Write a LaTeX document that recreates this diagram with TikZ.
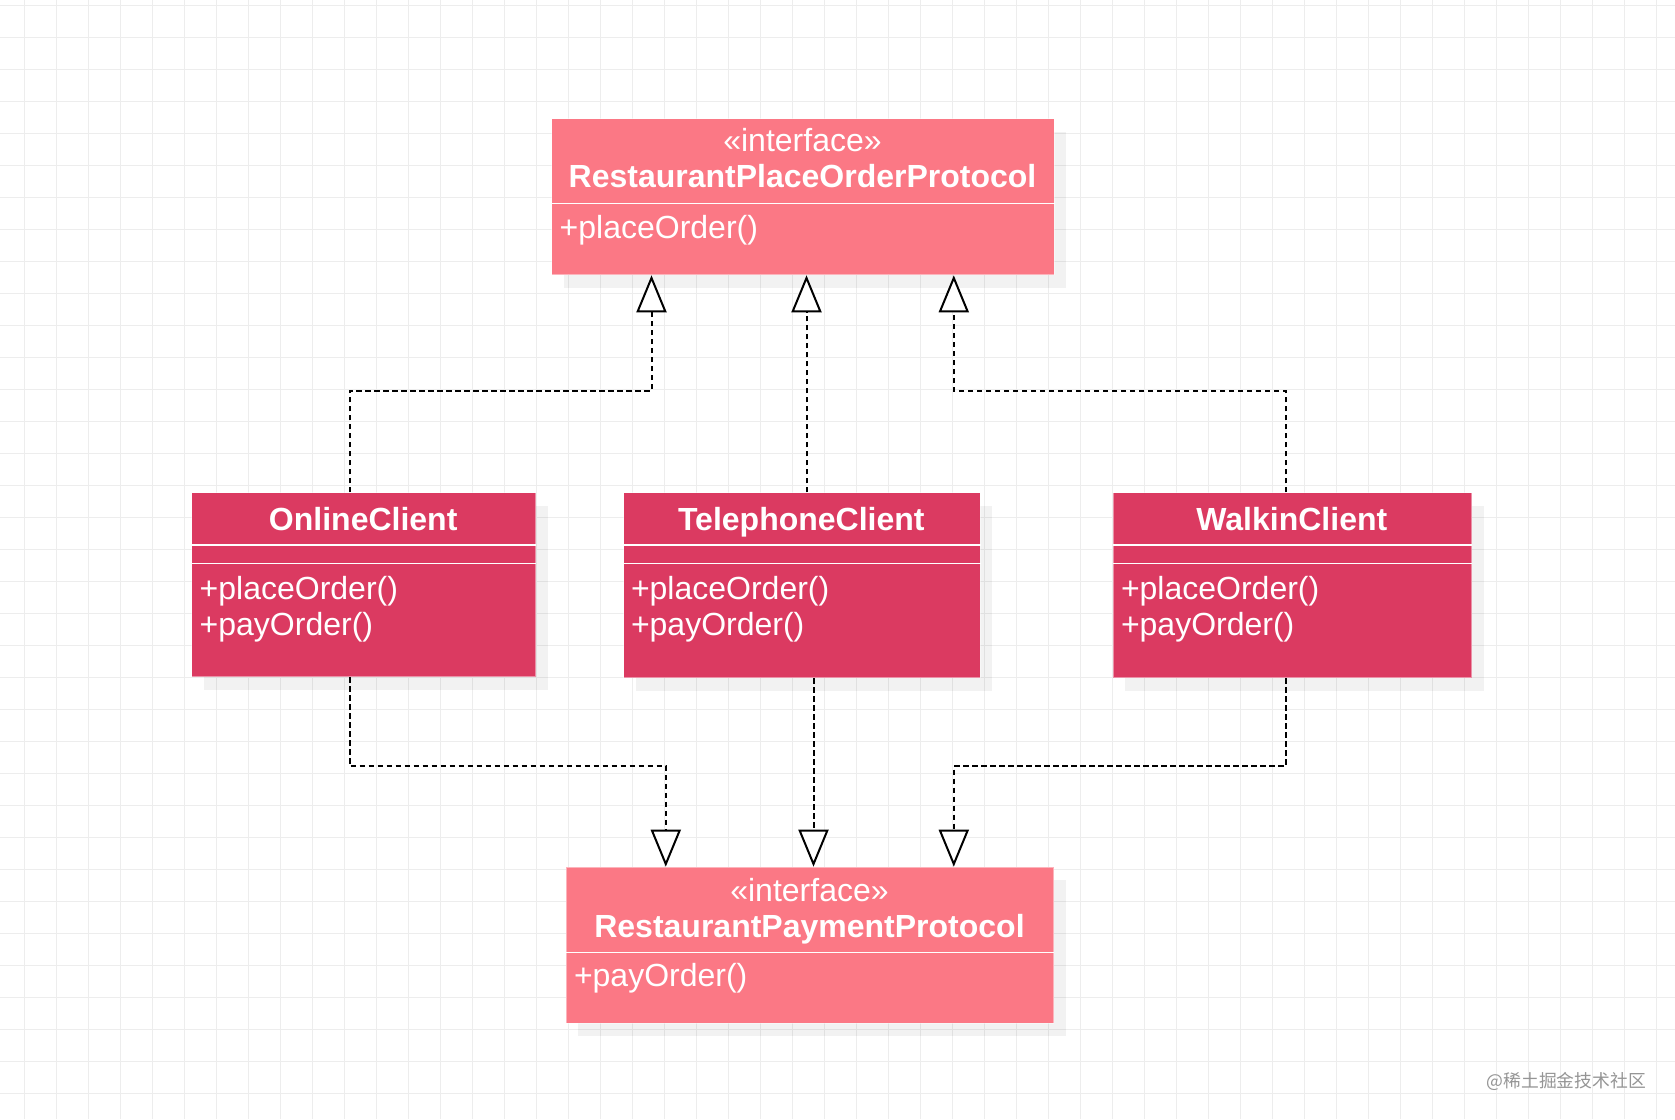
\documentclass[tikz,border=0pt]{standalone}
\usepackage{fontspec}
\setmainfont{Liberation Sans}
\newfontfamily\cjkfont{Noto Sans CJK SC}
\usetikzlibrary{arrows.meta,shadows,calc}
\definecolor{ifacefill}{HTML}{FB7885}
\definecolor{clientfill}{HTML}{DB3A61}
\definecolor{gridc}{HTML}{EDEDED}
\definecolor{wmark}{HTML}{959595}
\begin{document}
\begin{tikzpicture}[x=1pt,y=-1pt,
  umlbox/.style={rectangle, inner sep=0pt, anchor=north west, draw=white, draw opacity=0.45, line width=1pt,
    drop shadow={shadow xshift=12pt,shadow yshift=-13pt,fill=black,opacity=0.05}},
  iface/.style={umlbox, fill=ifacefill},
  client/.style={umlbox, fill=clientfill},
  divider/.style={draw=white, line width=1.6pt},
  txt/.style={text=white, inner sep=0pt, font=\fontsize{32}{36}\selectfont},
  ttl/.style={txt, font=\fontsize{32}{36}\selectfont\bfseries, anchor=base},
  ster/.style={txt, anchor=base},
  meth/.style={txt, anchor=base west},
  gridline/.style={draw=gridc, line width=1pt},
  dep/.style={draw=black, line width=2pt, dash pattern=on 5.5pt off 3.5pt,
    -{Triangle[length=37pt,width=30pt,fill=white,line width=2pt]}}
]
\useasboundingbox (0,0) rectangle (1675,1119);
\fill[white] (0,0) rectangle (1675,1119);
\foreach \i in {0,...,51} \draw[gridline] ({24.3+32*\i},0) -- ({24.3+32*\i},1119);
\foreach \j in {0,...,34} \draw[gridline] (0,{5.3+32*\j}) -- (1675,{5.3+32*\j});

% top interface
\node[iface, minimum width=502.4pt, minimum height=156.3pt] (A) at (551.3,118) {};
\draw[divider] (A.west |- 0,203.3) -- (A.east |- 0,203.3);
\node[ster] (Ast) at (802.5,151.7) {«interface»};
\node[ttl] (At) at (802.5,187.3) {RestaurantPlaceOrderProtocol};
\node[meth] (Am) at (559.5,238.3) {+placeOrder()};

% clients
\node[client, minimum width=343.7pt, minimum height=183.7pt] (On) at (191.3,492.3) {};
\node[client, minimum width=356.7pt, minimum height=185pt] (Tel) at (623,492.3) {};
\node[client, minimum width=358.3pt, minimum height=185pt] (Wk) at (1112.7,492.3) {};
\foreach \n in {On,Tel,Wk}{
  \draw[divider] (\n.west |- 0,545.2) -- (\n.east |- 0,545.2);
  \draw[divider] (\n.west |- 0,563.5) -- (\n.east |- 0,563.5);
}
\node[ttl] (Ont) at (363.2,530) {OnlineClient};
\node[meth] (Onm1) at (199.5,599.3) {+placeOrder()};
\node[meth] (Onm2) at (199.5,635) {+payOrder()};
\node[ttl] (Telt) at (801.3,530) {TelephoneClient};
\node[meth] (Telm1) at (630.8,599.3) {+placeOrder()};
\node[meth] (Telm2) at (630.8,635) {+payOrder()};
\node[ttl] (Wkt) at (1291.8,530) {WalkinClient};
\node[meth] (Wkm1) at (1120.8,599.3) {+placeOrder()};
\node[meth] (Wkm2) at (1120.8,635) {+payOrder()};

% bottom interface
\node[iface, minimum width=487.6pt, minimum height=156pt] (B) at (565.7,866.7) {};
\draw[divider] (B.west |- 0,952.3) -- (B.east |- 0,952.3);
\node[ster] (Bst) at (809.5,901) {«interface»};
\node[ttl] (Bt) at (809.5,937.3) {RestaurantPaymentProtocol};
\node[meth] (Bm) at (573.8,986.7) {+payOrder()};

% realization connectors
\coordinate (a2) at ([xshift=3.5pt]A.south);
\coordinate (b2) at ([xshift=3.5pt]B.north);
\draw[dep] ([xshift=-14pt]On.north) -- ++(0,-101.6) -| ([xshift=-151.5pt]A.south);
\draw[dep] (a2 |- Tel.north) -- (a2);
\draw[dep] ([xshift=-6.8pt]Wk.north) -- ++(0,-101.6) -| ([xshift=150.8pt]A.south);
\draw[dep] ([xshift=-14pt]On.south) -- ++(0,89) -| ([xshift=-144.2pt]B.north);
\draw[dep] (b2 |- Tel.south) -- (b2);
\draw[dep] ([xshift=-6.8pt]Wk.south) -- ++(0,88) -| ([xshift=143.8pt]B.north);

% watermark
\node[font=\cjkfont\fontsize{17.8}{18}\selectfont, text=wmark, anchor=east, inner sep=0pt] (wm) at (1646,1081) {@稀土掘金技术社区};
\end{tikzpicture}
\end{document}
